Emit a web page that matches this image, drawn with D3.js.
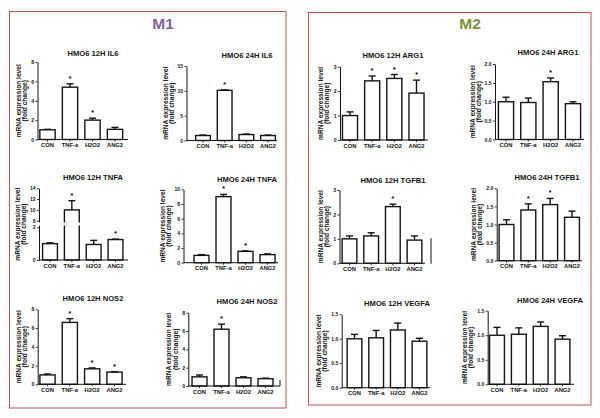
<!DOCTYPE html>
<html><head><meta charset="utf-8">
<script src="https://cdn.jsdelivr.net/npm/d3@7"></script>
<style>body{margin:0;background:#fff}svg{display:block}text{font-family:"Liberation Sans",Arial,sans-serif}</style>
</head><body><svg id="c" width="600" height="418"></svg>
<script>
// ---------------- data ----------------
const categories = ["CON", "TNF-a", "H2O2", "ANG2"];
const groupTitles = ["M1", "M2"];
const yLabelLines = ["mRNA expression level", "(fold change)"];
const panelTitles = [
  "HMO6 12H IL6", "HMO6 24H IL6",
  "HMO6 12H TNFA", "HMO6 24H TNFA",
  "HMO6 12H NOS2", "HMO6 24H NOS2",
  "HMO6 12H ARG1", "HMO6 24H ARG1",
  "HMO6 12H TGFB1", "HMO6 24H TGFB1",
  "HMO6 12H VEGFA", "HMO6 24H VEGFA"
];
const means = [
  [1.0, 5.4, 2.0, 1.05],
  [1.0, 10.1, 1.2, 1.0],
  [1.0, 10.0, 0.95, 1.25],
  [1.0, 9.0, 1.55, 1.1],
  [1.0, 6.6, 1.65, 1.3],
  [1.0, 6.2, 0.9, 0.8],
  [1.0, 2.42, 2.52, 1.92],
  [1.0, 0.98, 1.53, 0.95],
  [1.0, 1.12, 2.32, 0.95],
  [1.0, 1.4, 1.55, 1.2],
  [1.0, 1.02, 1.18, 0.95],
  [1.0, 1.02, 1.18, 0.92]
];
const errTops = [
  [1.05, 5.75, 2.2, 1.25],
  [1.1, 10.2, 1.3, 1.1],
  [1.05, 11.7, 1.2, 1.28],
  [1.1, 9.3, 1.6, 1.2],
  [1.1, 7.0, 1.75, 1.35],
  [1.2, 6.75, 1.0, 0.85],
  [1.15, 2.62, 2.68, 2.45],
  [1.12, 1.1, 1.63, 1.0],
  [1.12, 1.25, 2.42, 1.12],
  [1.13, 1.57, 1.72, 1.37],
  [1.09, 1.17, 1.32, 1.01],
  [1.16, 1.15, 1.27, 0.99]
];
const stars = [
  [0, 1, 1, 0], [0, 1, 0, 0],
  [0, 1, 0, 1], [0, 1, 1, 0],
  [0, 1, 1, 1], [0, 1, 0, 0],
  [0, 1, 1, 1], [0, 0, 1, 0],
  [0, 0, 1, 0], [0, 1, 1, 0],
  [0, 0, 0, 0], [0, 0, 0, 0]
];
const yTicks = [
  [0, 2, 4, 6, 8], [0, 5, 10, 15],
  [0, 2, 8, 10, 12, 14], [0, 2, 4, 6, 8, 10],
  [0, 2, 4, 6, 8], [0, 2, 4, 6, 8],
  [0, 1, 2, 3], [0, 0.5, 1, 1.5, 2],
  [0, 1, 2, 3], [0, 0.5, 1, 1.5, 2],
  [0, 0.5, 1, 1.5], [0, 0.5, 1, 1.5]
];
const tickFormats = ["d","d","d","d","d","d","d",".1f","d",".1f",".1f",".1f"];
const axisBreak = [2, 8]; // broken y axis of the 12H TNFA panel

// ---------------- layout ----------------
const layout = [
  {ax:37.5, y0:139.5, yTop:62,   c0:47.5, c3:115,   xEnd:128, tx:93,  ty:53,  lx:-17},
  {ax:186.5,y0:140.5, yTop:66,   c0:203,  c3:268,   xEnd:277, tx:247, ty:55,  lx:-19},
  {ax:39,   y0:260,   yTop:188.3,c0:50,   c3:115.5, xEnd:128, tx:93,  ty:177, lx:-19.5, brk:[260,227.3,220.7,188.3]},
  {ax:183.5,y0:262.7, yTop:189.3,c0:201.5,c3:267.5, xEnd:278, tx:247, ty:179, lx:-19},
  {ax:37.7, y0:384.3, yTop:309.3,c0:47.5, c3:114.5, xEnd:126, tx:93,  ty:298, lx:-17},
  {ax:188.3,y0:386,   yTop:312.7,c0:199.5,c3:265.5, xEnd:280, tx:247, ty:301, lx:-17, endTick:true},
  {ax:340,  y0:140,   yTop:66.7, c0:350,  c3:416.5, xEnd:428, tx:393, ty:55,  lx:-17},
  {ax:495,  y0:139.5, yTop:64,   c0:506,  c3:573,   xEnd:584, tx:548, ty:52,  lx:-20.5},
  {ax:339.5,y0:263.3, yTop:190,  c0:349.5,c3:414.5, xEnd:425, tx:393, ty:180, lx:-17, stray:431},
  {ax:496.7,y0:260.7, yTop:188.3,c0:506.5,c3:572,   xEnd:582, tx:547, ty:177, lx:-20.5},
  {ax:341.7,y0:387.7, yTop:314.3,c0:354.5,c3:419.5, xEnd:430, tx:397, ty:303, lx:-20.5},
  {ax:487.7,y0:384.3, yTop:310.7,c0:497,  c3:562.5, xEnd:574, tx:550, ty:300, lx:-20.5}
];
const boxes = [
  {x:9.5, y:11.5, w:276.5, h:396.5, color:"#b9534e", tx:163, ty:23, tcolor:"#8064A2"},
  {x:308.5, y:12.5, w:282.5, h:392.5, color:"#c0504d", tx:470, ty:23, tcolor:"#77933C"}
];

// ---------------- drawing ----------------
const svg = d3.select("#c");
svg.append("rect").attr("width",600).attr("height",418).attr("fill","#fff");

boxes.forEach((b, i) => {
  svg.append("rect").attr("x",b.x).attr("y",b.y).attr("width",b.w).attr("height",b.h)
    .attr("fill","none").attr("stroke",b.color).attr("stroke-width",1);
  svg.append("text").attr("x",b.tx).attr("y",b.ty).attr("text-anchor","middle")
    .attr("dominant-baseline","central").attr("font-size",15.5).attr("font-weight","bold")
    .attr("fill",b.tcolor).text(groupTitles[i]);
});

const ink = "#151515";

panelTitles.forEach((title, i) => {
  const L = layout[i];
  const ticks = yTicks[i];
  const g = svg.append("g");
  let y;
  if (L.brk) {
    y = d3.scaleLinear().domain([0, axisBreak[0], axisBreak[1], d3.max(ticks)]).range(L.brk);
  } else {
    y = d3.scaleLinear().domain([0, d3.max(ticks)]).range([L.y0, L.yTop]);
  }
  const step = (L.c3 - L.c0) / 3;
  const x = d3.scaleBand().domain(categories)
    .range([L.c0 - 0.34 * step, L.c3 + 0.34 * step]).paddingInner(0.32).paddingOuter(0);

  // bars
  g.selectAll("rect.bar").data(categories).join("rect").attr("class","bar")
    .attr("x", c => x(c)).attr("width", x.bandwidth())
    .attr("y", (c, j) => y(means[i][j]))
    .attr("height", (c, j) => y(0) - y(means[i][j]))
    .attr("fill","#fff").attr("stroke",ink).attr("stroke-width",1.4);

  // error bars
  categories.forEach((c, j) => {
    const cx = x(c) + x.bandwidth() / 2;
    g.append("line").attr("x1",cx).attr("x2",cx)
      .attr("y1",y(means[i][j])).attr("y2",y(errTops[i][j]))
      .attr("stroke",ink).attr("stroke-width",1.4);
    g.append("line").attr("x1",cx - 3.5).attr("x2",cx + 3.5)
      .attr("y1",y(errTops[i][j])).attr("y2",y(errTops[i][j]))
      .attr("stroke",ink).attr("stroke-width",1.4);
    if (stars[i][j]) {
      g.append("text").attr("x",cx).attr("y",y(errTops[i][j]) - 3)
        .attr("text-anchor","middle").attr("font-size",8).attr("font-weight","bold")
        .attr("fill",ink).text("*");
    }
  });

  // y axis
  const ya = g.append("g").attr("transform",`translate(${L.ax},0)`)
    .call(d3.axisLeft(y).tickValues(ticks).tickSize(2).tickSizeOuter(0)
      .tickPadding(1.3).tickFormat(d3.format(tickFormats[i])));
  ya.select(".domain").attr("stroke",ink).attr("stroke-width",1);
  ya.selectAll(".tick line").attr("stroke",ink).attr("stroke-width",0.9);
  ya.selectAll("text").attr("font-size",5.1).attr("font-weight","bold").attr("fill",ink)
    .attr("font-family","Liberation Sans, Arial, sans-serif");

  // x axis
  g.append("line").attr("x1",L.ax).attr("x2",L.xEnd).attr("y1",L.y0).attr("y2",L.y0)
    .attr("stroke",ink).attr("stroke-width",1);
  const xa = g.append("g").attr("transform",`translate(0,${L.y0})`)
    .call(d3.axisBottom(x).tickSize(2).tickSizeOuter(0).tickPadding(1.5));
  xa.select(".domain").remove();
  xa.selectAll(".tick line").attr("stroke",ink).attr("stroke-width",0.9);
  xa.selectAll("text").attr("font-size",5.8).attr("font-weight","bold").attr("fill",ink)
    .attr("font-family","Liberation Sans, Arial, sans-serif");

  if (L.endTick) {
    g.append("line").attr("x1",L.xEnd).attr("x2",L.xEnd).attr("y1",L.y0).attr("y2",L.y0 - 6)
      .attr("stroke",ink).attr("stroke-width",1);
  }
  if (L.stray) {
    g.append("line").attr("x1",L.stray).attr("x2",L.stray).attr("y1",L.y0 - 25).attr("y2",L.y0 + 0.5)
      .attr("stroke",ink).attr("stroke-width",1);
  }
  if (L.brk) {
    const yb1 = y(axisBreak[1]) + 1.8, yb0 = y(axisBreak[0]) - 1.8;
    g.append("rect").attr("x",L.ax - 1).attr("y",yb1).attr("width",L.xEnd - L.ax)
      .attr("height",yb0 - yb1).attr("fill","#fff");
  }

  // y label
  const mid = (L.y0 + L.yTop) / 2;
  yLabelLines.forEach((t, k) => {
    g.append("text").attr("transform",`translate(${L.ax + L.lx + k * 6.2},${mid}) rotate(-90)`)
      .attr("text-anchor","middle").attr("font-size",6.6).attr("font-weight","bold")
      .attr("fill",ink).text(t);
  });

  // title
  g.append("text").attr("x",L.tx).attr("y",L.ty).attr("text-anchor","middle")
    .attr("dominant-baseline","central").attr("font-size",7.6).attr("font-weight","bold")
    .attr("fill",ink).text(title);
});
</script></body></html>
